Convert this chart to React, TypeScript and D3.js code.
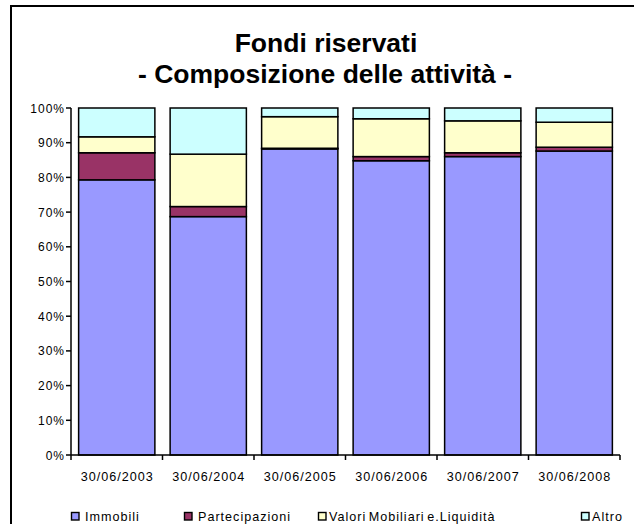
import React from "react";
import * as d3 from "d3";

const categories = ["30/06/2003", "30/06/2004", "30/06/2005", "30/06/2006", "30/06/2007", "30/06/2008"];
const seriesNames = ["Immobili", "Partecipazioni", "Valori Mobiliari e.Liquidità", "Altro"];
const immobili = [79.3, 68.7, 88.2, 84.8, 86.0, 87.6];
const partecipazioni = [7.8, 2.9, 0.2, 1.2, 1.1, 1.1];
const valori = [4.6, 15.1, 9.1, 10.9, 9.2, 7.2];
const altro = [8.3, 13.3, 2.5, 3.1, 3.7, 4.1];
const yTicks = [0, 10, 20, 30, 40, 50, 60, 70, 80, 90, 100];
const colors = ["#9999FF", "#993366", "#FFFFCC", "#CCFFFF"];

const W = 634;
const H = 524;
const left = 71;
const right = 620;
const top = 108;
const bottom = 455;
const font = "Arial, 'Liberation Sans', sans-serif";

export default function App() {
  const rows = categories.map((c, i) => ({
    cat: c,
    s0: immobili[i],
    s1: partecipazioni[i],
    s2: valori[i],
    s3: altro[i],
  }));
  const keys = ["s0", "s1", "s2", "s3"];
  const stacked = d3.stack<any>().keys(keys).offset(d3.stackOffsetExpand)(rows);
  const x = d3.scaleBand().domain(categories).range([left, right]).paddingInner(0.2 / 1.2).paddingOuter(0.1 / 1.2);
  const y = d3.scaleLinear().domain([0, 1]).range([bottom, top]);
  const step = (right - left) / categories.length;

  const legendX = [71, 184, 318, 581];
  const legendGap = [14, 14, 11, 11];
  const legendY = 521;

  return (
    <svg width={W} height={H} style={{ position: "absolute", left: 0, top: 0, background: "#fff" }} fontFamily={font}>
      <rect x={11} y={6} width={640} height={540} fill="#fff" stroke="#000" strokeWidth={2} />
      <text x={326} y={52} textAnchor="middle" fontSize={26.5} fontWeight="bold">Fondi riservati</text>
      <text x={325} y={83} textAnchor="middle" fontSize={26.5} fontWeight="bold">- Composizione delle attività -</text>

      {stacked.map((layer, li) =>
        layer.map((d, i) => (
          <rect
            key={`${li}-${i}`}
            x={x(categories[i])}
            y={y(d[1])}
            width={x.bandwidth()}
            height={Math.max(0, y(d[0]) - y(d[1]))}
            fill={colors[li]}
            stroke="#000"
            strokeWidth={1.5}
          />
        ))
      )}

      {/* y axis */}
      <line x1={left} x2={left} y1={top} y2={bottom} stroke="#000" strokeWidth={1.5} />
      {yTicks.map((t) => (
        <g key={t}>
          <line x1={left - 5} x2={left} y1={y(t / 100)} y2={y(t / 100)} stroke="#000" strokeWidth={1.5} />
          <text x={65} y={y(t / 100) + 4.5} textAnchor="end" fontSize={12} letterSpacing={1}>{t}%</text>
        </g>
      ))}

      {/* x axis */}
      <line x1={left} x2={right} y1={bottom} y2={bottom} stroke="#000" strokeWidth={1.5} />
      {d3.range(categories.length + 1).map((i) => (
        <line key={i} x1={left + i * step} x2={left + i * step} y1={bottom} y2={bottom + 5} stroke="#000" strokeWidth={1.5} />
      ))}
      {categories.map((c) => (
        <text key={c} x={(x(c) as number) + x.bandwidth() / 2 + 0.5} y={481} textAnchor="middle" fontSize={12.6} letterSpacing={1}>{c}</text>
      ))}

      {/* legend */}
      {seriesNames.map((n, i) => (
        <g key={n}>
          <rect x={legendX[i] + 0.5} y={legendY - 8.5} width={7.5} height={7.5} fill={colors[i]} stroke="#000" strokeWidth={1.4} />
          <text x={legendX[i] + legendGap[i]} y={legendY} fontSize={12.6} letterSpacing={1} wordSpacing={-2}>{n}</text>
        </g>
      ))}
    </svg>
  );
}
